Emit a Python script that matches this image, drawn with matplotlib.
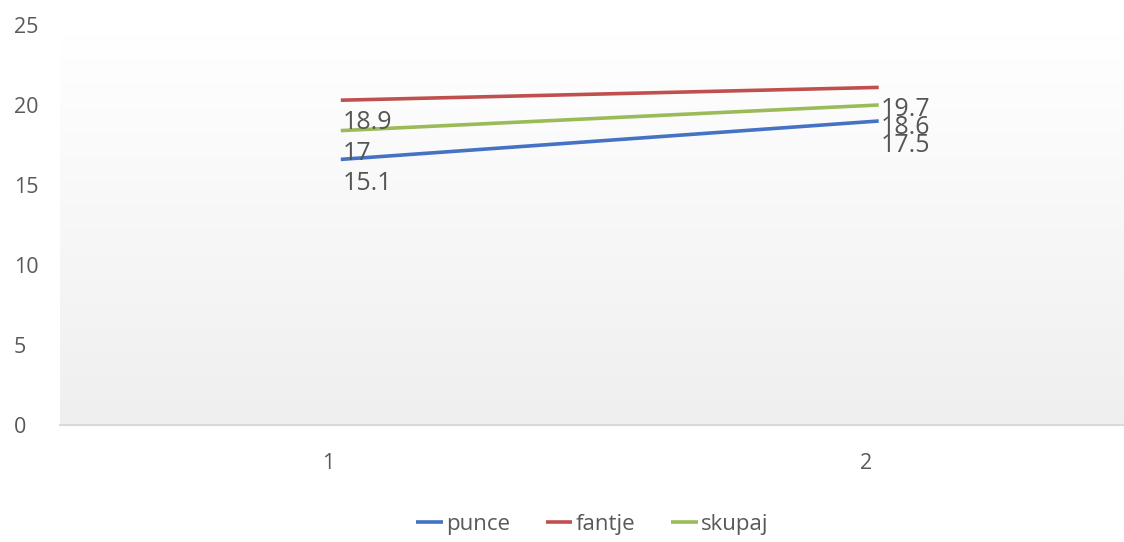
import matplotlib
matplotlib.use('Agg')
import matplotlib.pyplot as plt
import matplotlib.transforms as mtransforms
import numpy as np

### data
categories = [1, 2]
punce = [16.6, 19.0]
fantje = [20.3, 21.1]
skupaj = [18.4, 20.0]

### data labels as printed on the chart (first column at 1, second at 2)
labels_1 = ['18.9', '17', '15.1']
labels_2 = ['19.7', '18.6', '17.5']

series_names = ['punce', 'fantje', 'skupaj']
colors = ['#4472C4', '#C0504D', '#9BBB59']

plt.rcParams['font.family'] = ['Open Sans', 'DejaVu Sans']

fig = plt.figure(figsize=(11.24, 5.42), dpi=100)
ax = fig.add_axes([60 / 1124, 117 / 542, 1 - 60 / 1124, 400 / 542])

### light gray gradient background
grad = np.linspace(1.0, 0.0, 256).reshape(-1, 1)
ax.imshow(grad, cmap=matplotlib.colors.LinearSegmentedColormap.from_list('g', ['#efefef', '#ffffff']),
          extent=[0.478, 2.456, 0, 24.4], aspect='auto', zorder=0)

for vals, name, c in zip([punce, fantje, skupaj], series_names, colors):
    ax.plot(categories, vals, color=c, lw=2.6, label=name, zorder=3, solid_capstyle='butt')

for lab in labels_1:
    ax.text(categories[0] + 0.003, float(lab), lab, fontsize=18, color='#555555',
            ha='left', va='center', zorder=4)
for lab in labels_2:
    ax.text(categories[1] + 0.003, float(lab), lab, fontsize=18, color='#555555',
            ha='left', va='center', zorder=4)

ax.set_xlim(0.478, 2.456)
ax.set_ylim(0, 25)
ax.set_yticks([0, 5, 10, 15, 20, 25])
ax.set_xticks(categories)
ax.tick_params(length=0, labelsize=15.5, colors='#595959')
ax.tick_params(axis='y', pad=0)
ax.tick_params(axis='x', pad=20)
for lbl in ax.get_yticklabels():
    lbl.set_horizontalalignment('left')
    lbl.set_transform(lbl.get_transform() + mtransforms.ScaledTranslation(-0.46, 0, fig.dpi_scale_trans))
for lbl in ax.get_xticklabels():
    lbl.set_transform(lbl.get_transform() + mtransforms.ScaledTranslation(-0.13, 0, fig.dpi_scale_trans))

for s in ['top', 'right', 'left']:
    ax.spines[s].set_visible(False)
ax.spines['bottom'].set_color('#d9d9d9')
ax.spines['bottom'].set_linewidth(1.5)

fig.legend(loc='center', bbox_to_anchor=(0.527, 0.032), ncol=3, frameon=False,
           fontsize=16, handlelength=1.2, handletextpad=0.15, columnspacing=1.6,
           labelcolor='#595959')

fig.savefig('out.png', dpi=100)
